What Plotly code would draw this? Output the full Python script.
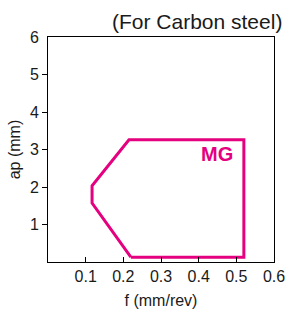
import plotly.graph_objects as go

# Region outline (f in mm/rev, ap in mm)
f_vals = [0.22, 0.52, 0.52, 0.215, 0.117, 0.117, 0.22]
ap_vals = [0.13, 0.13, 3.26, 3.26, 2.03, 1.57, 0.13]

x_tickvals = [0.1, 0.2, 0.3, 0.4, 0.5, 0.6]
x_ticktext = ["0.1", "0.2", "0.3", "0.4", "0.5", "0.6"]
y_tickvals = [1, 2, 3, 4, 5, 6]
y_ticktext = ["1", "2", "3", "4", "5", "6"]

MAGENTA = "#E5007F"
FONT = "Liberation Sans, Arial, sans-serif"

fig = go.Figure()
fig.add_trace(go.Scatter(x=f_vals, y=ap_vals, mode="lines",
                         line=dict(color=MAGENTA, width=3),
                         hoverinfo="skip", showlegend=False))
# invisible trace to anchor the tick-only overlay axis
fig.add_trace(go.Scatter(x=[None], y=[None], xaxis="x", yaxis="y2",
                         showlegend=False, hoverinfo="skip"))

fig.add_annotation(x=0.5, y=2.9, xref="x", yref="y", text="<b>MG</b>",
                   showarrow=False, xanchor="right", yanchor="middle",
                   xshift=-1, yshift=-1,
                   font=dict(family=FONT, size=20, color=MAGENTA))
fig.add_annotation(x=1, y=1, xref="paper", yref="paper",
                   text="(For Carbon steel)", showarrow=False,
                   xanchor="right", yanchor="bottom", xshift=10, yshift=2,
                   font=dict(family=FONT, size=21, color="#1a1a1a"))

fig.update_layout(
    width=288, height=316, autosize=False,
    margin=dict(l=48, r=14, t=37, b=54, autoexpand=False),
    paper_bgcolor="white", plot_bgcolor="white",
    font=dict(family=FONT, size=16, color="#1a1a1a"),
    xaxis=dict(range=[0, 0.6], tickvals=x_tickvals, ticktext=x_ticktext,
               ticks="inside", ticklen=5, tickcolor="black", tickwidth=1,
               showline=True, linecolor="black", linewidth=1, mirror=True,
               showgrid=False, zeroline=False, automargin=False,
               title=dict(text="f (mm/rev)", standoff=10, font=dict(size=16))),
    yaxis=dict(range=[0, 6], tickvals=y_tickvals, ticktext=y_ticktext,
               ticks="outside", ticklen=5, tickcolor="rgba(0,0,0,0)",
               showline=True, linecolor="black", linewidth=1, mirror=True,
               showgrid=False, zeroline=False, automargin=False,
               title=dict(text="ap (mm)", standoff=5, font=dict(size=16))),
    yaxis2=dict(range=[0, 6], overlaying="y", side="left",
                tickvals=[1, 2, 3, 4, 5], ticks="outside", ticklen=5,
                tickcolor="black", tickwidth=1, showticklabels=False,
                showline=False, showgrid=False, zeroline=False,
                automargin=False),
)

fig.write_html(
    "out.html",
    config={"displayModeBar": False, "responsive": False},
    post_script="document.body.style.margin='0';document.body.style.overflow='hidden';",
)
